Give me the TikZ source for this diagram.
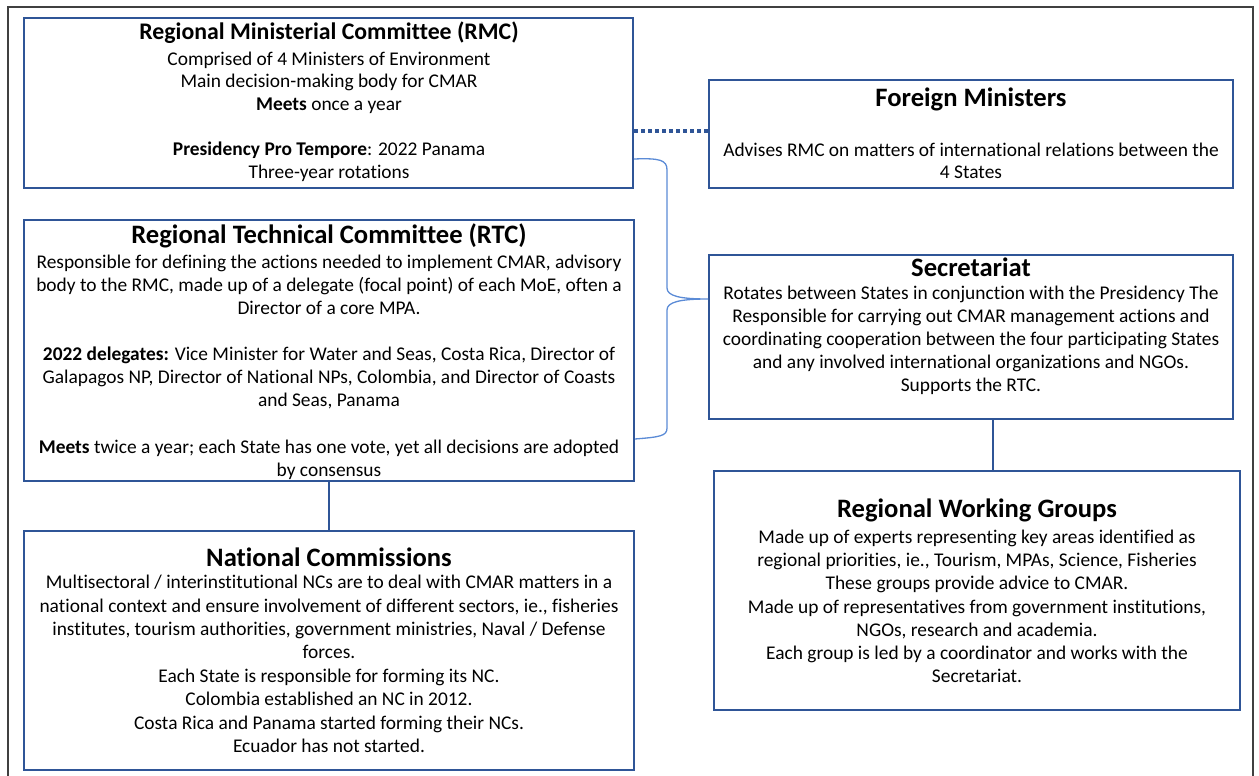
\documentclass[tikz,border=0pt]{standalone}
\usepackage{fontspec}
\setmainfont{Carlito}[Ligatures=NoCommon]
\definecolor{boxblue}{HTML}{2F5597}
\definecolor{bracec}{HTML}{5B8BD6}
\definecolor{frameg}{HTML}{404040}
\begin{document}
\begin{tikzpicture}[x=1pt,y=-1pt,
  box/.style={draw=boxblue,line width=2pt,rectangle,inner sep=0pt},
  title/.style={font=\bfseries\fontsize{#1}{#1}\selectfont,inner sep=0pt,anchor=center},
  body/.style={font=\fontsize{19.4}{#1}\selectfont,align=center,inner sep=0pt,anchor=center},
  link/.style={draw=boxblue,line width=2pt},
  dots/.style={draw=boxblue,line width=3.5pt,dash pattern=on 3.5pt off 3.5pt},
  bracel/.style={draw=bracec,line width=1.3pt}]
\useasboundingbox (0,0) rectangle (1259,776);
\draw[frameg,line width=1.3pt] (8,790) -- (8,7) -- (1253,7) -- (1253,790);

% boxes
\node[box,minimum width=609pt,minimum height=170pt] (rmc) at (328.5,103) {};
\node[box,minimum width=524pt,minimum height=108pt] (fm) at (971,134) {};
\node[box,minimum width=610pt,minimum height=261pt] (rtc) at (329,350.5) {};
\node[box,minimum width=524pt,minimum height=164pt] (sec) at (971,337) {};
\node[box,minimum width=610pt,minimum height=239pt] (nc) at (329,650.5) {};
\node[box,minimum width=526pt,minimum height=239pt] (rwg) at (977,590.5) {};

% texts
\node[title=23.8] (rmct) at (329,33) {Regional Ministerial Committee (RMC)};
\node[body=22.6] (rmcb) at (329,116.5) {Comprised of 4 Ministers of Environment\\Main decision-making body for CMAR\\\textbf{Meets} once a year\\[22.6pt]\textbf{Presidency Pro Tempore}: 2022 Panama\\Three-year rotations};

\node[title=26.6] (fmt) at (971,99) {Foreign Ministers};
\node[body=22] (fmb) at (971,161) {Advises RMC on matters of international relations between the\\4 States};

\node[title=26.6] (rtct) at (329,236) {Regional Technical Committee (RTC)};
\node[body=23.1] (rtcb) at (329,367) {Responsible for defining the actions needed to implement CMAR, advisory\\body to the RMC, made up of a delegate (focal point) of each MoE, often a\\Director of a core MPA.\\[23.1pt]\textbf{2022 delegates:} Vice Minister for Water and Seas, Costa Rica, Director of\\Galapagos NP, Director of National NPs, Colombia, and Director of Coasts\\and Seas, Panama\\[23.1pt]\textbf{Meets} twice a year; each State has one vote, yet all decisions are adopted\\by consensus};

\node[title=26.6] (sect) at (971,267) {Secretariat};
\node[body=23] (secb) at (971,340) {Rotates between States in conjunction with the Presidency The\\Responsible for carrying out CMAR management actions and\\coordinating cooperation between the four participating States\\and any involved international organizations and NGOs.\\Supports the RTC.};

\node[title=26.6] (nct) at (329,557) {National Commissions};
\node[body=23.4] (ncb) at (329,664) {Multisectoral / interinstitutional NCs are to deal with CMAR matters in a\\national context and ensure involvement of different sectors, ie., fisheries\\institutes, tourism authorities, government ministries, Naval / Defense\\forces.\\Each State is responsible for forming its NC.\\Colombia established an NC in 2012.\\Costa Rica and Panama started forming their NCs.\\Ecuador has not started.};

\node[title=26.6] (rwgt) at (977,510) {Regional Working Groups};
\node[body=23.2] (rwgb) at (977,606.5) {Made up of experts representing key areas identified as\\regional priorities, ie., Tourism, MPAs, Science, Fisheries\\These groups provide advice to CMAR.\\Made up of representatives from government institutions,\\NGOs, research and academia.\\Each group is led by a coordinator and works with the\\Secretariat.};

% connectors
\draw[dots] (rmc.east |- 0,131) -- (fm.west |- 0,131);
\draw[link] (rtc.south) -- (nc.north);
\draw[link] (sec.south -| 993,0) -- (rwg.north -| 993,0);

\coordinate (btop) at (rmc.east |- 0,159);
\coordinate (bbot) at (rtc.east |- 0,439);
\coordinate (btip) at (sec.west |- 0,299);
\draw[bracel] (btop) .. controls (660,158) and (667,160) .. (667,170)
  -- (667,288) .. controls (667,296) and (680,299) .. (btip)
  .. controls (680,299) and (667,302) .. (667,310)
  -- (667,428) .. controls (667,436) and (660,437) .. (bbot);
\end{tikzpicture}
\end{document}
